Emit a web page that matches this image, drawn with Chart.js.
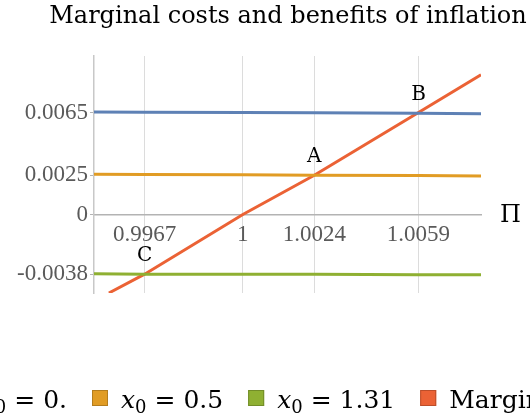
<!DOCTYPE html>
<html>
<head>
<meta charset="utf-8">
<script src="https://cdn.jsdelivr.net/npm/chart.js@4.4.0/dist/chart.umd.min.js"></script>
<style>
  html, body { margin: 0; padding: 0; background: #fff; overflow: hidden; }
  #wrap { width: 530px; height: 417px; position: relative; }
</style>
</head>
<body>
<div id="wrap"><canvas id="mcChart" width="530" height="417"></canvas></div>
<script>
// Textes et séries
const titleText = 'Marginal costs and benefits of inflation';
const seriesNames = ['x₀ = 0.', 'x₀ = 0.5', 'x₀ = 1.31', 'Marginal cost'];
const seriesColors = ['#5E81B5', '#E19C24', '#8FB032', '#EB6235'];
const swatchBorders = ['#4B6791', '#B47D1D', '#728D28', '#BC4E2A'];

// Bénéfices marginaux (lignes presque horizontales)
const piValues = [0.995, 0.9967, 1, 1.0024, 1.0059, 1.008];
const benefitX0 = [0.00653, 0.00652, 0.0065, 0.00649, 0.00646, 0.00642];
const benefitX05 = [0.00256, 0.00255, 0.00253, 0.0025, 0.00248, 0.00246];
const benefitX131 = [-0.00378, -0.0038, -0.0038, -0.00381, -0.00383, -0.00384];

// Coût marginal (droite croissante)
const costPi = [0.9955, 0.9967, 1, 1.0024, 1.0059, 1.008];
const marginalCost = [-0.005, -0.0038, 0, 0.0025, 0.0065, 0.0089];

// Graduations
const xTickValues = [0.9967, 1, 1.0024, 1.0059];
const yTickValues = [0.0065, 0.0025, 0, -0.0038];

// Points d'intersection annotés
const pointLabels = ['A', 'B', 'C'];
const pointPi = [1.0024, 1.0059, 0.9967];
const pointValue = [0.0025, 0.0065, -0.0038];

const toPoints = (xs, ys) => xs.map((x, i) => ({ x: x, y: ys[i] }));
const seriesData = [
    toPoints(piValues, benefitX0),
    toPoints(piValues, benefitX05),
    toPoints(piValues, benefitX131),
    toPoints(costPi, marginalCost)
];

const serif = '"DejaVu Serif", serif';

// Légende avec x en italique et indice 0
function drawLegendLabel(ctx, text, x, y, draw) {
    let w = 0;
    let rest = text;
    if (text.startsWith('x₀')) {
        ctx.font = 'italic 25px ' + serif;
        if (draw) ctx.fillText('x', x, y);
        w += ctx.measureText('x').width;
        ctx.font = '18px ' + serif;
        if (draw) ctx.fillText('0', x + w, y + 5);
        w += ctx.measureText('0').width;
        rest = text.slice(2);
    }
    ctx.font = '25px ' + serif;
    if (draw) ctx.fillText(rest, x + w, y);
    w += ctx.measureText(rest).width;
    return w;
}

const extrasPlugin = {
    id: 'extras',
    afterDraw(chart) {
        const ctx = chart.ctx;
        const xs = chart.scales.x;
        const ys = chart.scales.y;
        ctx.save();
        ctx.fillStyle = '#000';

        // titre
        ctx.font = '24px ' + serif;
        ctx.textAlign = 'center';
        ctx.textBaseline = 'alphabetic';
        ctx.fillText(titleText, 288, 23);

        // nom de l'axe
        ctx.textAlign = 'left';
        ctx.textBaseline = 'middle';
        ctx.fillText('Π', chart.chartArea.right + 19, ys.getPixelForValue(0) + 1);

        // A, B, C
        ctx.font = '20px ' + serif;
        ctx.textAlign = 'center';
        ctx.textBaseline = 'alphabetic';
        pointLabels.forEach((lab, i) => {
            ctx.fillText(lab, xs.getPixelForValue(pointPi[i]), ys.getPixelForValue(pointValue[i]) - 13);
        });

        // légende
        ctx.textAlign = 'left';
        const boxSize = 16, boxGap = 13, itemGap = 25, baseY = 408, boxTop = 390;
        const widths = seriesNames.map(n => drawLegendLabel(ctx, n, 0, 0, false));
        let cx = 92 - (boxSize + boxGap + widths[0] + itemGap);
        seriesNames.forEach((name, i) => {
            ctx.fillStyle = seriesColors[i];
            ctx.fillRect(cx, boxTop, boxSize, boxSize);
            ctx.strokeStyle = swatchBorders[i];
            ctx.lineWidth = 1;
            ctx.strokeRect(cx + 0.5, boxTop + 0.5, boxSize - 1, boxSize - 1);
            ctx.fillStyle = '#000';
            drawLegendLabel(ctx, name, cx + boxSize + boxGap, baseY, true);
            cx += boxSize + boxGap + widths[i] + itemGap;
        });
        ctx.restore();
    }
};

const tickFont = { family: '"Liberation Serif", serif', size: 23 };

const ctx = document.getElementById('mcChart').getContext('2d');
const mcChart = new Chart(ctx, {
    type: 'scatter',
    data: {
        datasets: seriesNames.map((name, i) => ({
            label: name,
            data: seriesData[i],
            showLine: true,
            borderColor: seriesColors[i],
            backgroundColor: seriesColors[i],
            borderWidth: 3,
            pointRadius: 0,
            tension: 0
        }))
    },
    options: {
        responsive: false,
        animation: false,
        layout: { padding: { top: 56, right: 49, bottom: 124, left: 0 } },
        plugins: {
            legend: { display: false },
            title: { display: false },
            tooltip: { enabled: false }
        },
        scales: {
            x: {
                type: 'linear',
                min: 0.995,
                max: 1.008,
                position: { y: 0 },
                afterBuildTicks: s => { s.ticks = xTickValues.map(v => ({ value: v })); },
                grid: { color: '#dcdcdc', lineWidth: 1, tickLength: 4 },
                border: { color: '#b3b3b3', width: 1.5 },
                ticks: {
                    color: '#5a5a5a',
                    font: tickFont,
                    padding: 3,
                    autoSkip: false,
                    maxRotation: 0,
                    callback: v => String(v)
                }
            },
            y: {
                type: 'linear',
                min: -0.005,
                max: 0.0101,
                afterBuildTicks: s => { s.ticks = yTickValues.map(v => ({ value: v })); },
                afterFit: s => { s.width = 94; },
                grid: { drawOnChartArea: false, color: '#b3b3b3', tickLength: 4 },
                border: { color: '#c8c8c8', width: 1.5 },
                ticks: {
                    color: '#5a5a5a',
                    font: tickFont,
                    padding: 2,
                    autoSkip: false,
                    callback: v => String(v)
                }
            }
        }
    },
    plugins: [extrasPlugin]
});
</script>
</body>
</html>
